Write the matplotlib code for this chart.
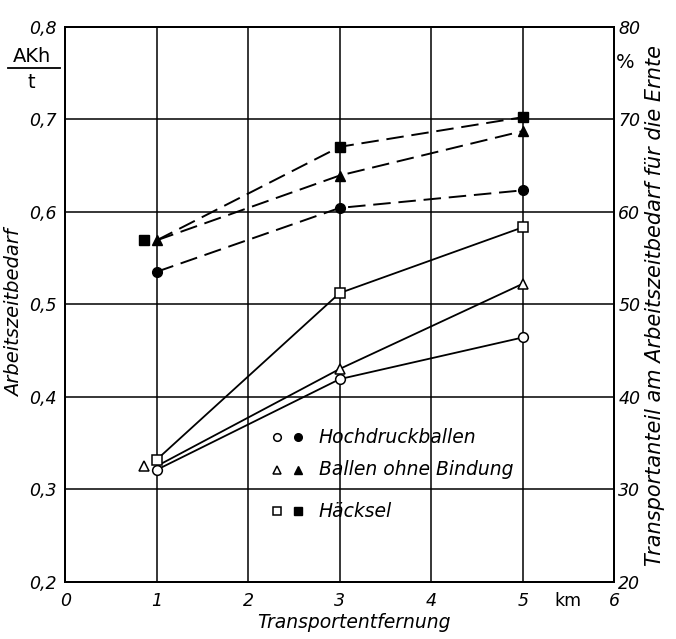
import matplotlib
matplotlib.use("Agg")
import matplotlib.pyplot as plt
from matplotlib.lines import Line2D

# ---------------- data ----------------
distance_km = [1, 3, 5]

# Arbeitszeitbedarf (AKh/t) - open markers, solid lines (left axis)
hochdruck_akh = [0.321, 0.419, 0.464]
ballen_akh = [0.325, 0.430, 0.522]
haecksel_akh = [0.332, 0.512, 0.583]

# Transportanteil (%) - filled markers, dashed lines (right axis)
hochdruck_pct = [53.5, 60.4, 62.3]
ballen_pct = [56.9, 63.9, 68.7]
haecksel_pct = [56.9, 67.0, 70.2]

series_names = ["Hochdruckballen", "Ballen ohne Bindung", "Häcksel"]
markers = ["o", "^", "s"]

x_ticks = [0, 1, 2, 3, 4, 5, 6]
left_ticks = [0.2, 0.3, 0.4, 0.5, 0.6, 0.7, 0.8]
left_ticklabels = ["0,2", "0,3", "0,4", "0,5", "0,6", "0,7", "0,8"]
right_ticks = [20, 30, 40, 50, 60, 70, 80]

FONT = dict(family="DejaVu Sans", style="italic")

fig = plt.figure(figsize=(6.76, 6.39), dpi=100)
ax = fig.add_axes([0.0965, 0.0895, 0.812, 0.869])
ax2 = ax.twinx()

ax.set_xlim(0, 6)
ax.set_ylim(0.2, 0.8)
ax2.set_ylim(20, 80)

# grid
for gx in [1, 2, 3, 4, 5]:
    ax.axvline(gx, color="black", lw=1.1, zorder=1)
for gy in [0.3, 0.4, 0.5, 0.6, 0.7]:
    ax.axhline(gy, color="black", lw=1.1, zorder=1)

for a in (ax, ax2):
    for s in a.spines.values():
        s.set_linewidth(1.4)
        s.set_color("black")

# marker x-offset so coincident markers at x=1 are not hidden
open_first_offset = [0.0, -0.14, 0.0]
filled_first_offset = [0.0, 0.0, -0.14]

akh = [hochdruck_akh, ballen_akh, haecksel_akh]
pct = [hochdruck_pct, ballen_pct, haecksel_pct]

for i in range(3):
    ax.plot(distance_km, akh[i], color="black", lw=1.3, zorder=3)
    mx = [distance_km[0] + open_first_offset[i]] + distance_km[1:]
    ax.plot(mx, akh[i], ls="none", marker=markers[i], ms=7,
            mfc="white", mec="black", mew=1.1, zorder=4)
    ax2.plot(distance_km, pct[i], color="black", lw=1.4,
             dashes=(9, 4), zorder=3)
    fx = [distance_km[0] + filled_first_offset[i]] + distance_km[1:]
    ax2.plot(fx, pct[i], ls="none", marker=markers[i], ms=7,
             mfc="black", mec="black", zorder=4)

# ticks
ax.set_xticks(x_ticks)
ax.set_xticklabels([str(v) for v in x_ticks], fontsize=12.5, **FONT)
ax.set_yticks(left_ticks)
ax.set_yticklabels(left_ticklabels, fontsize=12.5, **FONT)
ax2.set_yticks(right_ticks)
ax2.set_yticklabels([str(v) for v in right_ticks], fontsize=12.5, **FONT)
ax.tick_params(axis="x", length=0, pad=7)
ax.tick_params(axis="y", length=0, pad=6)
ax2.tick_params(length=0, pad=3)
ax.annotate("km", xy=(5.5, 0), xycoords=("data", "axes fraction"),
            xytext=(0, -7), textcoords="offset points",
            ha="center", va="top", fontsize=12.5, family="DejaVu Sans")

# unit labels
fig.text(32 / 676, 1 - 56 / 639, "AKh", ha="center", va="center",
         fontsize=14, family="DejaVu Sans")
fig.add_artist(Line2D([8 / 676, 60 / 676], [1 - 68 / 639, 1 - 68 / 639],
                      color="black", lw=1.3))
fig.text(31 / 676, 1 - 83 / 639, "t", ha="center", va="center",
         fontsize=14, family="DejaVu Sans")
fig.text(625 / 676, 1 - 63 / 639, "%", ha="center", va="center",
         fontsize=14, family="DejaVu Sans")

# axis titles
fig.text(15 / 676, 1 - 313 / 639, "Arbeitszeitbedarf", rotation=90,
         ha="center", va="center", fontsize=14, **FONT)
fig.text(655 / 676, 1 - 305 / 639,
         "Transportanteil am Arbeitszeitbedarf für die Ernte",
         rotation=90, ha="center", va="center", fontsize=15, **FONT)
fig.text(354 / 676, 1 - 622 / 639, "Transportentfernung",
         ha="center", va="center", fontsize=13.5, **FONT)

# legend (manual)
leg_y = [0.356, 0.321, 0.276]
for i in range(3):
    ax.plot([2.31], [leg_y[i]], ls="none", marker=markers[i], ms=5.5,
            mfc="white", mec="black", mew=1.1, zorder=5)
    ax.plot([2.54], [leg_y[i]], ls="none", marker=markers[i], ms=5.5,
            mfc="black", mec="black", zorder=5)
    ax.text(2.77, leg_y[i], series_names[i], ha="left", va="center",
            fontsize=13.5, **FONT)

fig.savefig("out.png", dpi=100, facecolor="white")
